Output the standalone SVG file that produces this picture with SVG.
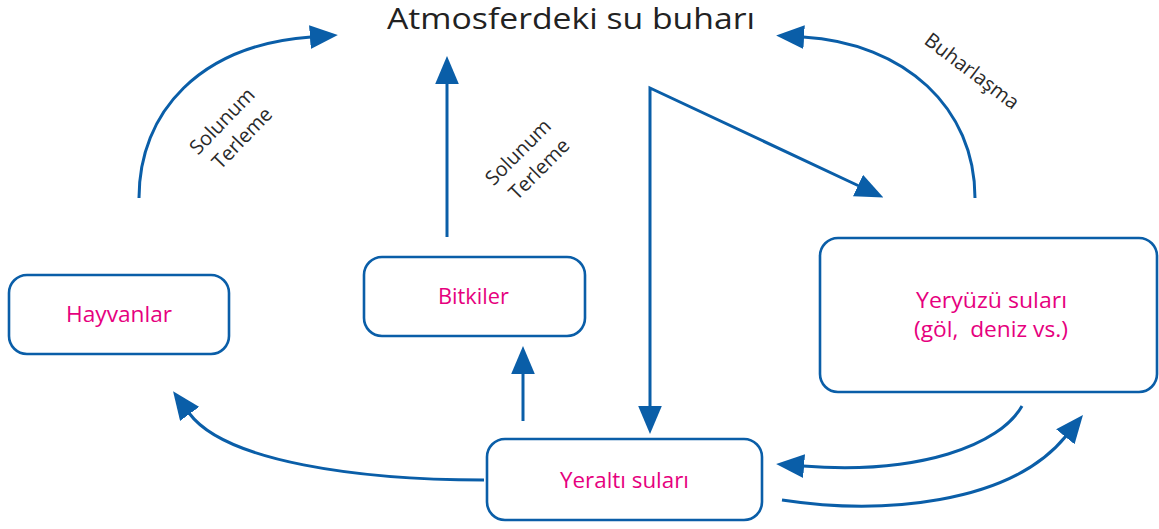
<svg xmlns="http://www.w3.org/2000/svg" width="1159" height="529" viewBox="0 0 1159 529">
  <style>
    .box { fill: #ffffff; stroke: #0a5ea8; stroke-width: 2.6; }
    .lbl { font-family: "Open Sans", "DejaVu Sans", sans-serif; font-size: 21px; fill: #e6007e; text-anchor: middle; }
    .title { font-family: "Open Sans", "DejaVu Sans", sans-serif; font-size: 30px; fill: #222222; text-anchor: middle; }
    .side { font-family: "Open Sans", "DejaVu Sans", sans-serif; font-size: 20px; fill: #2a2a2a; text-anchor: middle; }
    .con { fill: none; stroke: #0a5ea8; stroke-width: 3; stroke-linejoin: miter; }
  </style>
  <defs>
    <marker id="ah" markerUnits="userSpaceOnUse" markerWidth="28" markerHeight="24" viewBox="0 0 26 22" refX="1" refY="11" orient="auto-start-reverse">
      <path d="M0,0 L26,11 L0,22 z" fill="#0a5ea8"/>
    </marker>
  </defs>
  <rect width="1159" height="529" fill="#ffffff"/>

  <g id="title">
    <text class="title" x="571" y="29" textLength="368" lengthAdjust="spacingAndGlyphs">Atmosferdeki su buharı</text>
  </g>

  <g id="connectors">
    <path class="con" d="M139,198 C139,112 200,45 311,37" marker-end="url(#ah)"/>
    <path class="con" d="M447,237 L447,83" marker-end="url(#ah)"/>
    <path class="con" d="M650,407 L650,88 L859,186" marker-start="url(#ah)" marker-end="url(#ah)"/>
    <path class="con" d="M975,198 C975,108 905,43 803,37" marker-end="url(#ah)"/>
    <path class="con" d="M523,421 L523,373" marker-end="url(#ah)"/>
    <path class="con" d="M484,480 C360,480 225,462 189,413" marker-end="url(#ah)"/>
    <path class="con" d="M1022,406 C1000,445 920,475 803,466" marker-end="url(#ah)"/>
    <path class="con" d="M782,500 C880,515 1010,505 1066,436" marker-end="url(#ah)"/>
  </g>

  <g id="label-solunum-1">
    <text class="side" transform="translate(222,121) rotate(-46)" x="0" y="7">Solunum</text>
    <text class="side" transform="translate(242,138) rotate(-46)" x="0" y="7">Terleme</text>
  </g>
  <g id="label-solunum-2">
    <text class="side" transform="translate(518,152) rotate(-45)" x="0" y="7">Solunum</text>
    <text class="side" transform="translate(539,169) rotate(-45)" x="0" y="7">Terleme</text>
  </g>
  <g id="label-buharlasma">
    <text class="side" transform="translate(972,71) rotate(37)" x="0" y="7">Buharlaşma</text>
  </g>

  <g id="hayvanlar">
    <rect class="box" x="9" y="275" width="220" height="79" rx="18"/>
    <text class="lbl" x="119" y="322" textLength="106" lengthAdjust="spacingAndGlyphs">Hayvanlar</text>
  </g>
  <g id="bitkiler">
    <rect class="box" x="364" y="257" width="221" height="79" rx="18"/>
    <text class="lbl" x="473.5" y="304" textLength="71" lengthAdjust="spacingAndGlyphs">Bitkiler</text>
  </g>
  <g id="yeryuzu">
    <rect class="box" x="820" y="238" width="337" height="154" rx="18"/>
    <text class="lbl" x="991.5" y="308" textLength="151" lengthAdjust="spacingAndGlyphs">Yeryüzü suları</text>
    <text class="lbl" x="991" y="337" textLength="154" lengthAdjust="spacingAndGlyphs" xml:space="preserve">(göl,  deniz vs.)</text>
  </g>
  <g id="yeralti">
    <rect class="box" x="487" y="439" width="275" height="81" rx="18"/>
    <text class="lbl" x="624.5" y="488" textLength="129" lengthAdjust="spacingAndGlyphs">Yeraltı suları</text>
  </g>
</svg>
